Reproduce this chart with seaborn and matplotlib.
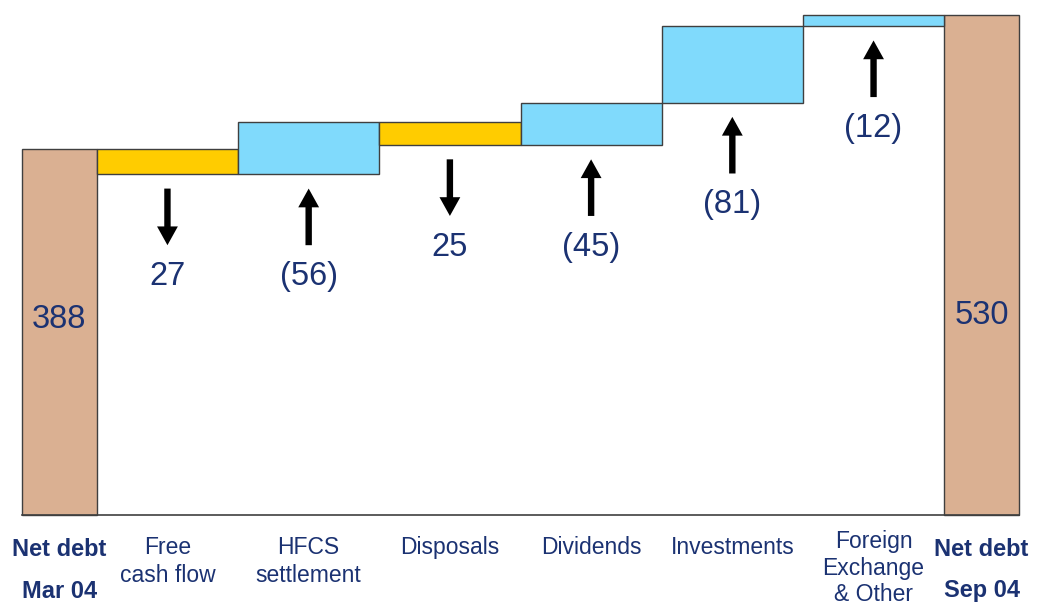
import matplotlib
matplotlib.use("Agg")
import matplotlib.pyplot as plt
import seaborn as sns

# data
start_label = ["Net debt", "Mar 04"]
end_label = ["Net debt", "Sep 04"]
start_value = 388
end_value = 530
steps = ["Free\ncash flow", "HFCS\nsettlement", "Disposals", "Dividends",
         "Investments", "Foreign\nExchange\n& Other"]
changes = [-27, 56, -25, 45, 81, 12]
change_labels = ["27", "(56)", "25", "(45)", "(81)", "(12)"]

sns.set_style("white")
plt.rcParams['font.family'] = ['Liberation Sans', 'DejaVu Sans']

navy = "#1B3272"
tan = "#DAB092"
yellow = "#FFCC00"
blue = "#80DAFC"
edge = "#3F3F3F"

end_w = 0.53
fig = plt.figure(figsize=(10.37, 6.07), dpi=100)
ax = fig.add_axes([22 / 1037, 92 / 607, 997 / 1037, 500 / 607])

# totals
right_x = end_w + len(steps)
ax.bar([0, right_x], [start_value, end_value], width=end_w, align="edge",
       color=tan, edgecolor=edge, linewidth=1, clip_on=False)
ax.text(end_w / 2, 207, str(start_value), ha="center", va="center",
        fontsize=23.5, color=navy)
ax.text(right_x + end_w / 2, 212, str(end_value), ha="center", va="center",
        fontsize=23.5, color=navy)

# steps
level = start_value
for i, (name, ch, lab) in enumerate(zip(steps, changes, change_labels)):
    lo = min(level, level + ch)
    x0 = end_w + i
    xc = x0 + 0.5
    ax.bar(x0, abs(ch), bottom=lo, width=1, align="edge",
           color=blue if ch > 0 else yellow, edgecolor=edge, linewidth=1,
           clip_on=False)
    a_top, a_bot = lo - 15, lo - 75
    if ch > 0:
        tip, tail = a_top, a_bot
    else:
        tip, tail = a_bot, a_top
    ax.annotate("", xy=(xc, tip), xytext=(xc, tail),
                arrowprops=dict(facecolor="black", edgecolor="none", width=4.6,
                                headwidth=15, headlength=13.5, shrink=0))
    ax.text(xc, lo - 108, lab, ha="center", va="center", fontsize=23.5, color=navy)
    if name.count("\n") > 1:
        top, ls = -0.03, 1.2
    else:
        top, ls = -0.042, 1.28
    ax.text(xc, top, name, transform=ax.get_xaxis_transform(), ha="center",
            va="top", fontsize=16.5, color=navy, linespacing=ls)
    level += ch

for xc, lab in [(end_w / 2, start_label), (right_x + end_w / 2, end_label)]:
    ax.text(xc, -0.068, lab[0], transform=ax.get_xaxis_transform(), ha="center",
            va="center", fontsize=17, color=navy, fontweight="bold")
    ax.text(xc, -0.152, lab[1], transform=ax.get_xaxis_transform(), ha="center",
            va="center", fontsize=17, color=navy, fontweight="bold")

ax.set_xlim(0, right_x + end_w)
ax.set_ylim(0, end_value)
ax.set_xticks([])
ax.set_yticks([])
for s in ["top", "left", "right"]:
    ax.spines[s].set_visible(False)
ax.spines["bottom"].set_color(edge)
ax.spines["bottom"].set_linewidth(1.2)

fig.savefig("out.png", dpi=100)
